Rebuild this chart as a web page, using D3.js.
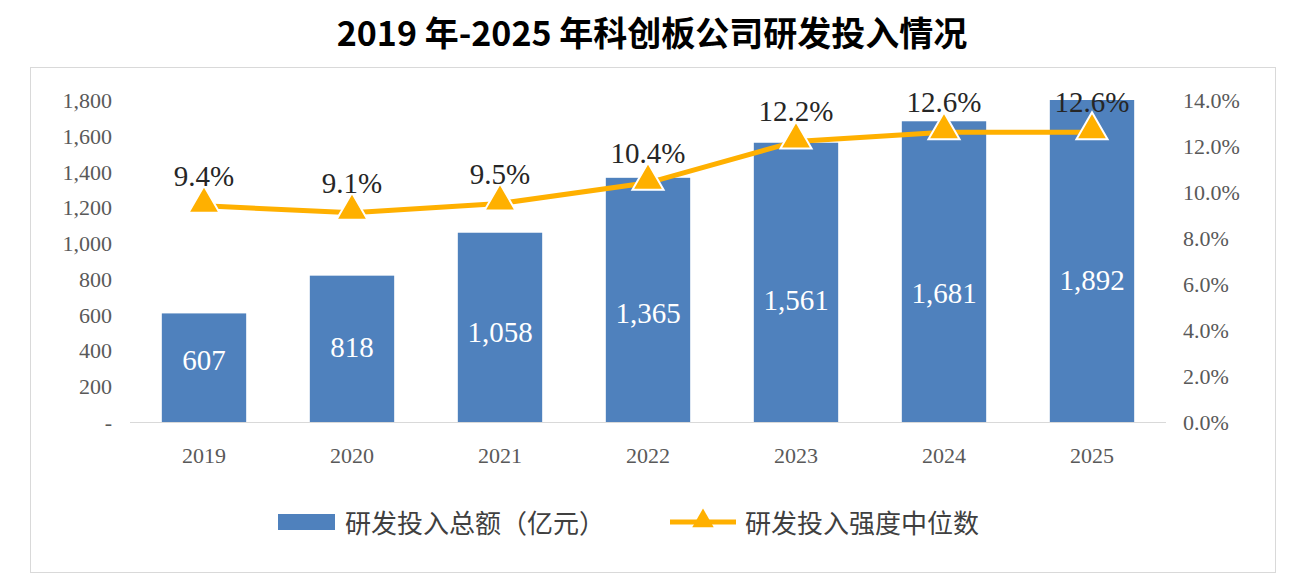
<!DOCTYPE html>
<html>
<head>
<meta charset="UTF-8">
<script src="https://d3js.org/d3.v7.min.js"></script>
<style>body{margin:0;background:#fff;}</style>
</head>
<body>
<script>
var years = ["2019","2020","2021","2022","2023","2024","2025"];
var spend = [607, 818, 1058, 1365, 1561, 1681, 1892];
var intensity = [9.4, 9.1, 9.5, 10.4, 12.2, 12.6, 12.6];
var leftTicks = [0,200,400,600,800,1000,1200,1400,1600,1800];
var rightTicks = [0,2,4,6,8,10,12,14];

var svg = d3.select("body").append("svg").attr("width",1298).attr("height",584);
var serif = "'Liberation Serif','Times New Roman',serif";
var cjk = "'Noto Sans CJK SC',sans-serif";

svg.append("text").attr("x",652).attr("y",46).attr("text-anchor","middle")
  .attr("font-family",cjk).attr("font-weight","bold").attr("font-size",34)
  .text("2019 年-2025 年科创板公司研发投入情况");
svg.append("rect").attr("x",30.5).attr("y",67.5).attr("width",1245).attr("height",505)
  .attr("fill","none").attr("stroke","#d9d9d9");

var x = d3.scaleBand().domain(years).range([130,1166]).paddingInner(0.43).paddingOuter(0.215);
var yL = d3.scaleLinear().domain([0,1800]).range([422,100]);
var yR = d3.scaleLinear().domain([0,14]).range([422,100]);

svg.selectAll(".lt").data(leftTicks).enter().append("text")
  .attr("x",112).attr("y",d=>yL(d)+8).attr("text-anchor","end")
  .attr("font-family",serif).attr("font-size",22).attr("fill","#595959")
  .text(d=>d===0?"-":d3.format(",")(d));
svg.selectAll(".rt").data(rightTicks).enter().append("text")
  .attr("x",1183).attr("y",d=>yR(d)+8)
  .attr("font-family",serif).attr("font-size",22).attr("fill","#595959")
  .text(d=>d.toFixed(1)+"%");

svg.selectAll(".bar").data(spend).enter().append("rect")
  .attr("x",(d,i)=>x(years[i])).attr("width",x.bandwidth())
  .attr("y",d=>yL(Math.min(d,1800))).attr("height",d=>422-yL(Math.min(d,1800)))
  .attr("fill","#4f81bd");
svg.append("line").attr("x1",130).attr("x2",1166).attr("y1",422.5).attr("y2",422.5).attr("stroke","#d9d9d9");

svg.selectAll(".bl").data(spend).enter().append("text")
  .attr("x",(d,i)=>x(years[i])+x.bandwidth()/2).attr("y",d=>yL(d*0.35)-24+10)
  .attr("text-anchor","middle").attr("font-family",serif).attr("font-size",29).attr("fill","#fff")
  .text(d=>d3.format(",")(d));

svg.selectAll(".xl").data(years).enter().append("text")
  .attr("x",d=>x(d)+x.bandwidth()/2).attr("y",463).attr("text-anchor","middle")
  .attr("font-family",serif).attr("font-size",22).attr("fill","#595959").text(d=>d);

var cx = (d,i)=>x(years[i])+x.bandwidth()/2;
var orange = "#ffb000";
svg.append("path").datum(intensity)
  .attr("d",d3.line().x(cx).y(d=>yR(d)))
  .attr("fill","none").attr("stroke",orange).attr("stroke-width",5);
var tri = d3.symbol().type(d3.symbolTriangle).size(420);
svg.selectAll(".m").data(intensity).enter().append("path")
  .attr("d",tri).attr("transform",(d,i)=>"translate("+cx(d,i)+","+(yR(d)-2)+")")
  .attr("fill",orange).attr("stroke","#fff").attr("stroke-width",2);
svg.selectAll(".pl").data(intensity).enter().append("text")
  .attr("x",cx).attr("y",d=>yR(d)-20).attr("text-anchor","middle")
  .attr("font-family",serif).attr("font-size",29).attr("fill","#262626")
  .text(d=>d.toFixed(1)+"%");

// legend
svg.append("rect").attr("x",278).attr("y",514).attr("width",57).attr("height",16).attr("fill","#4f81bd");
svg.append("text").attr("x",345).attr("y",533).attr("font-family",cjk).attr("font-size",26).attr("fill","#404040")
  .text("研发投入总额（亿元）");
svg.append("line").attr("x1",670).attr("x2",736).attr("y1",522).attr("y2",522).attr("stroke",orange).attr("stroke-width",5);
svg.append("path").attr("d",d3.symbol().type(d3.symbolTriangle).size(200)).attr("transform","translate(703,521)")
  .attr("fill",orange);
svg.append("text").attr("x",745).attr("y",533).attr("font-family",cjk).attr("font-size",26).attr("fill","#404040")
  .text("研发投入强度中位数");
</script>
</body>
</html>
